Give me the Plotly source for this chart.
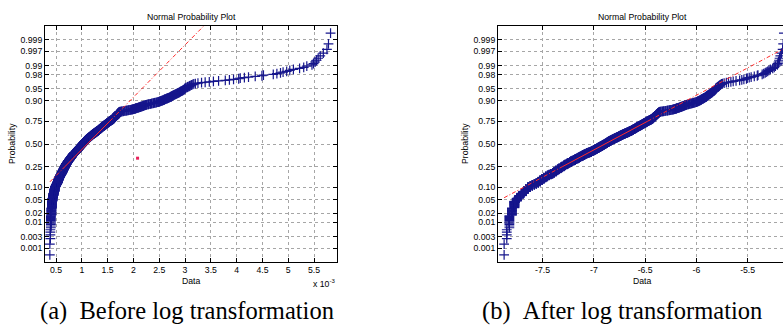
import numpy as np
import plotly.graph_objects as go
from statistics import NormalDist

W, H = 783, 329

# Sorted sample, in units of 1e-5
sample_1e5 = [
    38, 38, 39, 39, 39, 39, 40, 40, 40, 40,
    40, 40, 40, 40, 40, 40, 40, 41, 41, 41,
    41, 41, 41, 41, 41, 41, 41, 41, 41, 42,
    42, 42, 42, 42, 42, 42, 42, 42, 42, 42,
    42, 42, 42, 42, 42, 43, 43, 43, 43, 43,
    43, 43, 43, 43, 44, 44, 44, 44, 44, 44,
    44, 44, 44, 45, 45, 45, 45, 45, 45, 45,
    45, 45, 46, 46, 46, 46, 46, 46, 46, 46,
    47, 47, 47, 47, 47, 47, 47, 47, 47, 47,
    47, 47, 48, 48, 48, 48, 48, 48, 48, 48,
    48, 48, 49, 49, 49, 49, 49, 50, 50, 50,
    50, 50, 50, 51, 51, 51, 51, 51, 52, 52,
    52, 52, 52, 52, 53, 53, 53, 53, 53, 53,
    53, 53, 54, 54, 54, 54, 54, 54, 54, 54,
    54, 54, 55, 55, 55, 55, 55, 55, 55, 55,
    55, 56, 56, 56, 56, 56, 56, 56, 56, 56,
    57, 57, 57, 57, 57, 57, 57, 57, 58, 58,
    58, 58, 58, 58, 58, 58, 59, 59, 59, 59,
    59, 59, 59, 60, 60, 60, 60, 60, 60, 61,
    61, 61, 61, 61, 61, 61, 61, 62, 62, 62,
    62, 62, 62, 62, 62, 62, 62, 63, 63, 63,
    63, 63, 63, 63, 63, 63, 63, 64, 64, 64,
    64, 64, 64, 64, 64, 64, 65, 65, 65, 65,
    65, 65, 65, 65, 65, 66, 66, 66, 66, 66,
    66, 66, 66, 66, 67, 67, 67, 67, 67, 67,
    67, 67, 67, 68, 68, 68, 68, 68, 68, 68,
    68, 68, 68, 69, 69, 69, 69, 69, 69, 69,
    69, 69, 70, 70, 70, 70, 70, 70, 70, 70,
    70, 71, 71, 71, 71, 71, 71, 71, 71, 72,
    72, 72, 72, 72, 72, 72, 73, 73, 73, 73,
    73, 73, 73, 73, 73, 74, 74, 74, 74, 74,
    74, 74, 75, 75, 75, 75, 75, 75, 75, 76,
    76, 76, 76, 76, 76, 76, 76, 77, 77, 77,
    77, 77, 77, 77, 78, 78, 78, 78, 78, 78,
    78, 78, 79, 79, 79, 79, 79, 79, 79, 80,
    80, 80, 80, 80, 80, 80, 80, 81, 81, 81,
    81, 81, 81, 81, 81, 82, 82, 82, 82, 82,
    82, 82, 83, 83, 83, 83, 83, 83, 83, 84,
    84, 84, 84, 84, 84, 84, 84, 85, 85, 85,
    85, 85, 85, 86, 86, 86, 86, 86, 87, 87,
    87, 87, 87, 88, 88, 88, 88, 88, 89, 89,
    89, 89, 89, 89, 89, 90, 90, 90, 90, 90,
    90, 90, 91, 91, 91, 91, 91, 91, 91, 92,
    92, 92, 92, 92, 92, 92, 93, 93, 93, 93,
    93, 93, 93, 94, 94, 94, 94, 94, 94, 94,
    95, 95, 95, 95, 95, 95, 95, 96, 96, 96,
    96, 96, 96, 96, 97, 97, 97, 97, 97, 97,
    97, 98, 98, 98, 98, 98, 98, 98, 99, 99,
    99, 99, 99, 99, 99, 100, 100, 100, 100, 100,
    100, 100, 101, 101, 101, 101, 101, 101, 101, 102,
    102, 102, 102, 102, 102, 102, 103, 103, 103, 103,
    103, 103, 103, 103, 104, 104, 104, 104, 104, 104,
    104, 105, 105, 105, 105, 105, 105, 105, 106, 106,
    106, 106, 106, 106, 106, 106, 107, 107, 107, 107,
    107, 108, 108, 108, 108, 108, 108, 109, 109, 109,
    109, 109, 109, 110, 110, 110, 110, 110, 111, 111,
    111, 111, 111, 111, 112, 112, 112, 112, 112, 113,
    113, 113, 113, 113, 114, 114, 114, 114, 114, 115,
    115, 115, 115, 115, 116, 116, 116, 116, 116, 117,
    117, 117, 117, 117, 118, 118, 118, 118, 118, 119,
    119, 119, 119, 119, 120, 120, 120, 120, 120, 121,
    121, 121, 121, 121, 122, 122, 122, 122, 123, 123,
    123, 123, 124, 124, 124, 124, 125, 125, 125, 125,
    126, 126, 126, 126, 127, 127, 127, 127, 128, 128,
    128, 128, 128, 129, 129, 129, 129, 130, 130, 130,
    130, 131, 131, 131, 131, 132, 132, 132, 132, 133,
    133, 133, 133, 133, 134, 134, 134, 134, 134, 135,
    135, 135, 135, 135, 136, 136, 136, 136, 137, 137,
    137, 137, 137, 138, 138, 138, 138, 138, 139, 139,
    139, 139, 139, 139, 140, 140, 140, 141, 141, 141,
    141, 142, 142, 142, 142, 143, 143, 143, 143, 144,
    144, 144, 144, 145, 145, 145, 145, 146, 146, 146,
    146, 147, 147, 147, 147, 148, 148, 148, 148, 149,
    149, 149, 149, 150, 150, 150, 150, 151, 151, 151,
    152, 152, 152, 152, 153, 153, 153, 153, 153, 154,
    154, 155, 155, 155, 155, 156, 156, 156, 157, 157,
    157, 158, 158, 158, 159, 159, 159, 160, 160, 160,
    160, 161, 161, 161, 161, 162, 162, 162, 162, 163,
    163, 163, 163, 163, 164, 164, 164, 164, 164, 165,
    165, 165, 165, 165, 166, 166, 166, 166, 166, 167,
    167, 167, 167, 167, 168, 168, 168, 168, 168, 169,
    169, 169, 169, 169, 169, 170, 170, 170, 170, 171,
    171, 171, 171, 172, 172, 172, 172, 173, 173, 173,
    174, 175, 177, 178, 180, 181, 183, 184, 186, 187,
    188, 190, 191, 193, 194, 196, 197, 198, 199, 200,
    201, 202, 203, 204, 204, 205, 206, 207, 208, 209,
    210, 211, 212, 213, 213, 214, 215, 216, 217, 218,
    219, 219, 220, 221, 222, 223, 224, 225, 226, 228,
    229, 230, 232, 233, 235, 236, 238, 239, 241, 242,
    244, 245, 247, 248, 249, 250, 251, 252, 253, 254,
    255, 256, 257, 258, 259, 260, 260, 261, 262, 263,
    264, 265, 266, 267, 268, 269, 270, 271, 272, 273,
    273, 274, 275, 275, 276, 277, 278, 279, 280, 281,
    282, 283, 284, 285, 286, 287, 288, 289, 290, 291,
    292, 293, 294, 295, 296, 297, 298, 299, 299, 300,
    300, 301, 302, 304, 305, 306, 308, 309, 310, 312,
    313, 315, 317, 320, 325, 332, 339, 347, 355, 365,
    378, 386, 394, 404, 407, 415, 423, 436, 449, 452,
    471, 478, 485, 490, 497, 503, 510, 522, 530, 536,
    546, 549, 552, 555, 558, 562, 568, 575, 578, 582,
]

# Isolated red point on the raw-data plot (value in 1e-3 units, probability)
stray_value_1e3 = [2.08]
stray_prob = [0.337]

prob_ticks = [0.001, 0.003, 0.01, 0.02, 0.05, 0.10, 0.25, 0.50,
              0.75, 0.90, 0.95, 0.98, 0.99, 0.997, 0.999]
prob_labels = ["0.001", "0.003", "0.01", "0.02", "0.05", "0.10", "0.25", "0.50",
               "0.75", "0.90", "0.95", "0.98", "0.99", "0.997", "0.999"]
raw_ticks = [0.5, 1, 1.5, 2, 2.5, 3, 3.5, 4, 4.5, 5, 5.5]
raw_labels = ["0.5", "1", "1.5", "2", "2.5", "3", "3.5", "4", "4.5", "5", "5.5"]
log_ticks = [-7.5, -7, -6.5, -6, -5.5]
log_labels = ["-7.5", "-7", "-6.5", "-6", "-5.5"]

nd = NormalDist()
data = np.sort(np.array(sample_1e5, dtype=float) * 1e-5)
n = data.size
zpos = np.array([nd.inv_cdf((i - 0.5) / n) for i in range(1, n + 1)])
zq1, zq3 = nd.inv_cdf(0.25), nd.inv_cdf(0.75)

FONT = "Liberation Sans, Arial, sans-serif"
SERIF = "Liberation Serif, Times New Roman, serif"
MARK = "#16168c"
RED = "#ff2a2a"


def ref_line(x):
    """Line through the first and third quartiles, extended to the data range."""
    q1, q3 = np.percentile(x, [25, 75])
    slope = (zq3 - zq1) / (q3 - q1)
    f = lambda v: zq1 + slope * (np.asarray(v) - q1)
    lo, hi = x.min(), x.max()
    return [
        ([lo, q1], f([lo, q1]), "4px,2px,1px,2px"),
        ([q1, q3], f([q1, q3]), "solid"),
        ([q3, hi], f([q3, hi]), "4px,2px,1px,2px"),
    ]


fig = go.Figure()


def add_panel(x, xa, ya):
    fig.add_trace(go.Scatter(
        x=x, y=zpos, mode="markers", xaxis=xa, yaxis=ya, showlegend=False,
        marker=dict(symbol="cross-thin", size=7, color=MARK,
                    line=dict(color=MARK, width=1.2)),
        hoverinfo="skip"))
    for sx, sy, dash in ref_line(x):
        fig.add_trace(go.Scatter(
            x=sx, y=sy, mode="lines", xaxis=xa, yaxis=ya, showlegend=False,
            line=dict(color=RED, width=1, dash=dash), hoverinfo="skip"))


add_panel(data * 1e3, "x", "y")
add_panel(np.log(data), "x2", "y2")

fig.add_trace(go.Scatter(
    x=stray_value_1e3, y=[nd.inv_cdf(p) for p in stray_prob], mode="markers",
    xaxis="x", yaxis="y", showlegend=False,
    marker=dict(symbol="square", size=3, color="#e8205a"), hoverinfo="skip"))

ytickvals = [nd.inv_cdf(p) for p in prob_ticks]

common = dict(
    showline=True, linecolor="black", linewidth=1,
    ticks="inside", ticklen=4, tickcolor="black", tickwidth=1,
    showgrid=True, gridcolor="#a6a6a6", gridwidth=1, griddash="dot",
    zeroline=False, tickfont=dict(family=FONT, size=8.7, color="black"),
)

y0, y1 = (H - 262) / H, (H - 26) / H

fig.update_layout(
    width=W, height=H, margin=dict(l=0, r=0, t=0, b=0),
    paper_bgcolor="white", plot_bgcolor="white",
    xaxis=dict(domain=[45 / W, 337 / W], range=[0.286, 5.945], anchor="y",
               tickvals=raw_ticks, ticktext=raw_labels, mirror="ticks", **common),
    yaxis=dict(domain=[y0, y1], range=[-3.5, 3.5], anchor="x",
               tickvals=ytickvals, ticktext=prob_labels, mirror="ticks", **common),
    xaxis2=dict(domain=[498 / W, 1.0], range=[-7.935, -5.155], anchor="y2",
                tickvals=log_ticks, ticktext=log_labels, mirror="ticks", **common),
    yaxis2=dict(domain=[y0, y1], range=[-3.5, 3.5], anchor="x2",
                tickvals=ytickvals, ticktext=prob_labels, mirror=False, **common),
)


def label(text, px, py, size=8.7, angle=0, xanchor="center", family=FONT):
    fig.add_annotation(
        text=text, x=px / W, y=1 - py / H, xref="paper", yref="paper",
        showarrow=False, textangle=angle, xanchor=xanchor, yanchor="middle",
        font=dict(family=family, size=size, color="black"))


label("Normal Probability Plot", 191, 16.5)
label("Normal Probability Plot", 642, 16.5)
label("Probability", 12, 144, angle=-90)
label("Probability", 465, 144, angle=-90)
label("Data", 191, 281)
label("Data", 642, 281)
label("x 10<sup>-3</sup>", 337, 283, xanchor="right")
label("(a)\u00a0\u00a0Before log transformation", 187, 311, size=24.5, family=SERIF)
label("(b)\u00a0\u00a0After log transformation", 622, 311, size=24.5, family=SERIF)

fig.write_html("out.html")
